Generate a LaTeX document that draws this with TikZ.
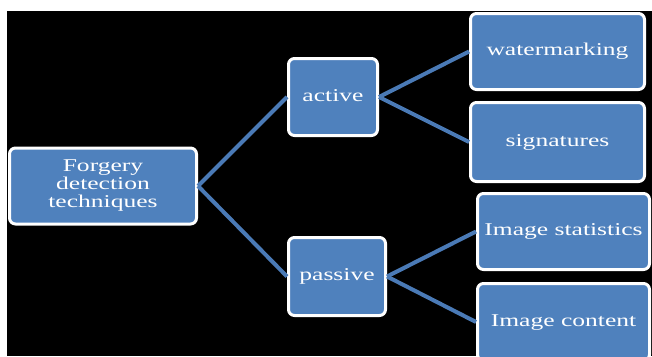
\documentclass[tikz,border=0pt]{standalone}
\usepackage{graphicx}
\usepackage{fontspec}
\setmainfont{Liberation Serif}
\definecolor{boxblue}{HTML}{4F81BD}
\definecolor{linkblue}{HTML}{4A7AB6}
\newcommand{\widetxt}[1]{\scalebox{1.42}[1]{#1}}
\tikzset{
  leafbox/.style={draw=white, line width=3pt, fill=boxblue, rounded corners=6pt,
    inner sep=0pt, text=white, align=center, font=\fontsize{18}{18}\selectfont},
  onerow/.style={text height=12pt, text depth=4pt},
  link/.style={draw=linkblue, line width=4pt}
}
\begin{document}
\begin{tikzpicture}[x=1pt,y=-1pt]
\useasboundingbox (0,0) rectangle (652,356);
\fill[white] (0,0) rectangle (652,356);
\fill[black] (7,11) rectangle (652,356);
\begin{scope}
\clip (0,0) rectangle (652,356);
\node[leafbox, minimum width=187pt, minimum height=76pt] (forg) at (103,186)
  {\raisebox{-2.5pt}{\begin{tabular}{@{}c@{}}\widetxt{Forgery}\\\widetxt{detection}\\\widetxt{techniques}\end{tabular}}};
\node[leafbox, onerow, minimum width=89pt, minimum height=77pt] (active) at (333,97) {\widetxt{active}};
\node[leafbox, onerow, minimum width=97pt, minimum height=78pt] (passive) at (337,276.5) {\widetxt{passive}};
\node[leafbox, onerow, minimum width=174pt, minimum height=76pt] (water) at (557.5,51.5) {\widetxt{watermarking}};
\node[leafbox, onerow, minimum width=174pt, minimum height=79pt] (sign) at (557.5,142) {\widetxt{signatures}};
\node[leafbox, onerow, minimum width=172pt, minimum height=76pt] (stat) at (563.5,231.5) {\widetxt{Image statistics}};
\node[leafbox, onerow, minimum width=172pt, minimum height=77pt] (cont) at (563.5,322) {\widetxt{Image content}};
\draw[link] (forg.east) -- (active.west);
\draw[link] (forg.east) -- (passive.west);
\draw[link] (active.east) -- (water.west);
\draw[link] (active.east) -- (sign.west);
\draw[link] (passive.east) -- (stat.west);
\draw[link] (passive.east) -- (cont.west);
\end{scope}
\end{tikzpicture}
\end{document}
